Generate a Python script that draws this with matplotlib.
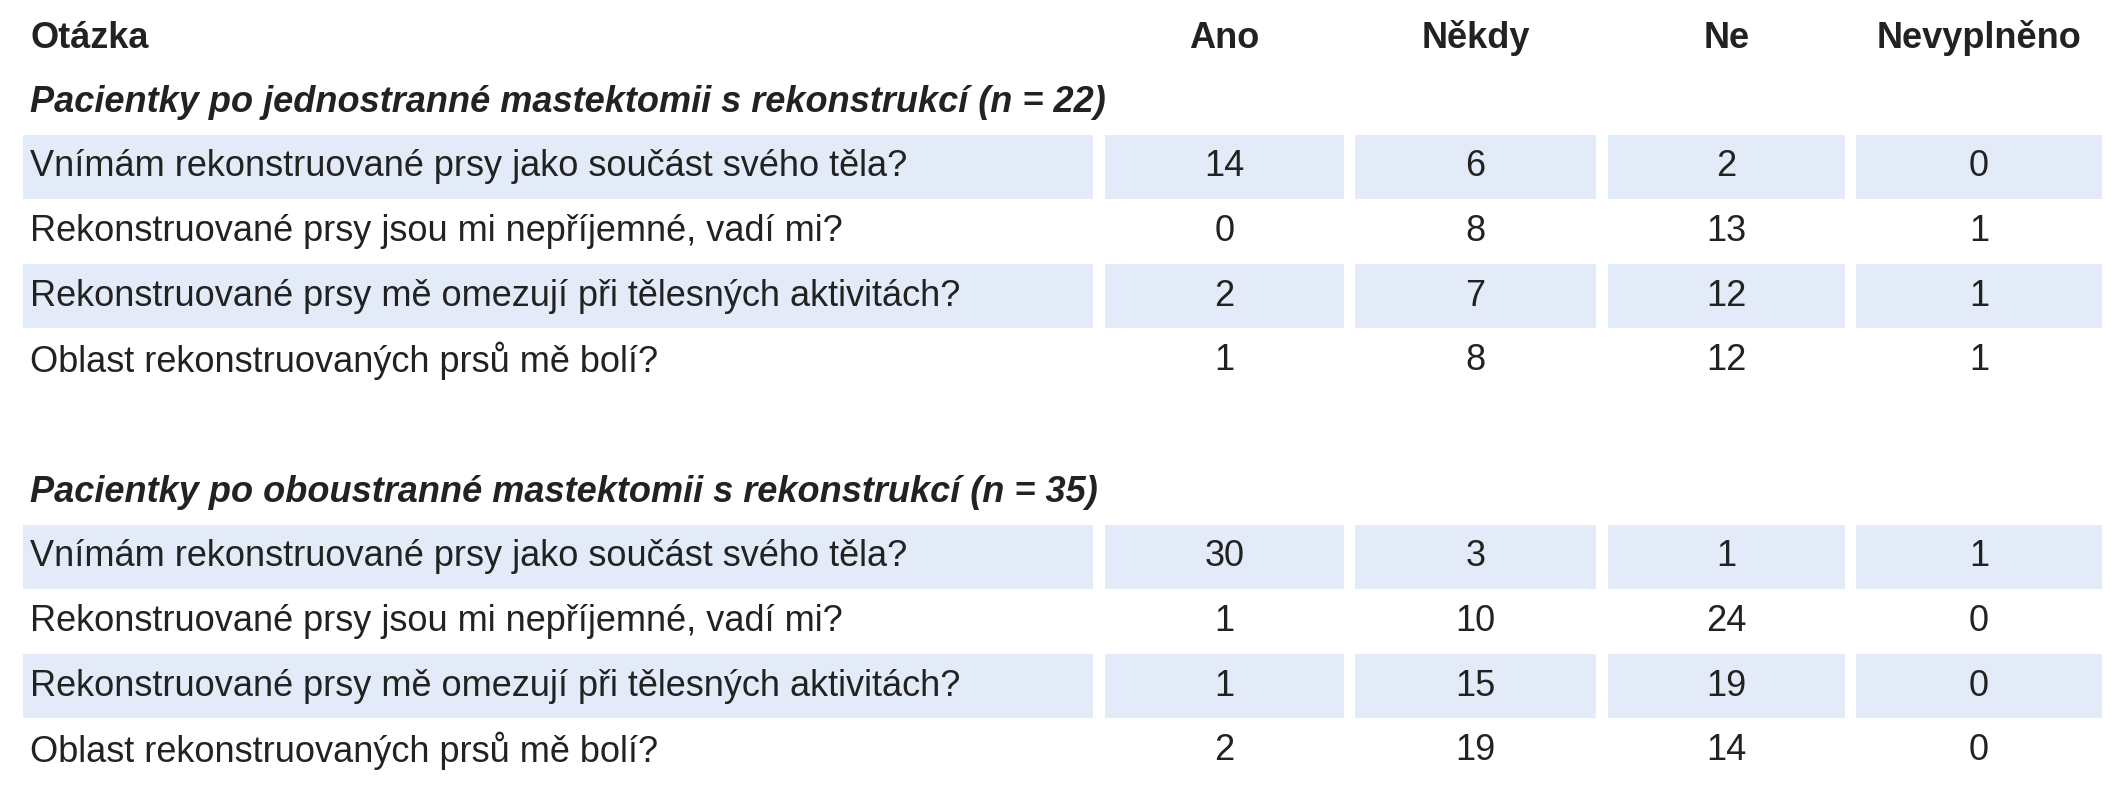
import matplotlib.pyplot as plt
from matplotlib.patches import Rectangle

columns = ["Ano", "Někdy", "Ne", "Nevyplněno"]
questions = [
    "Vnímám rekonstruované prsy jako součást svého těla?",
    "Rekonstruované prsy jsou mi nepříjemné, vadí mi?",
    "Rekonstruované prsy mě omezují při tělesných aktivitách?",
    "Oblast rekonstruovaných prsů mě bolí?",
]
group1_title = "Pacientky po jednostranné mastektomii s rekonstrukcí (n = 22)"
group1_values = [[14, 6, 2, 0], [0, 8, 13, 1], [2, 7, 12, 1], [1, 8, 12, 1]]
group2_title = "Pacientky po oboustranné mastektomii s rekonstrukcí (n = 35)"
group2_values = [[30, 3, 1, 1], [1, 10, 24, 0], [1, 15, 19, 0], [2, 19, 14, 0]]

plt.rcParams["font.family"] = ["Liberation Sans", "DejaVu Sans"]
fig = plt.figure(figsize=(21.2, 8), dpi=100)
ax = fig.add_axes([0, 0, 1, 1])
ax.set_xlim(0, 2120)
ax.set_ylim(800, 0)
ax.axis("off")

shade = "#e2ebf7"
fs = 26
cells = [(23, 1093), (1105, 1344), (1355, 1596), (1608, 1845), (1856, 2102)]
col_x = [(a + b) / 2 for a, b in cells[1:]]

ax.text(30, 38, "Otázka", fontsize=fs, fontweight="bold", va="center", color="#222222")
for x, c in zip(col_x, columns):
    ax.text(x, 38, c, fontsize=fs, fontweight="bold", va="center", ha="center", color="#222222")


def draw_group(title, values, y_title, y_first):
    ax.text(30, y_title, title, fontsize=fs, fontweight="bold", style="italic",
            va="center", color="#222222")
    for i, (q, row) in enumerate(zip(questions, values)):
        yc = y_first + i * 64.5
        if i % 2 == 0:
            for a, b in cells:
                ax.add_patch(Rectangle((a, yc - 32), b - a, 64, color=shade, lw=0))
        ax.text(30, yc, q, fontsize=fs, va="center", color="#222222")
        for x, v in zip(col_x, row):
            ax.text(x, yc, str(v), fontsize=fs, va="center", ha="center", color="#222222")


draw_group(group1_title, group1_values, 102, 167)
draw_group(group2_title, group2_values, 492, 557)

fig.savefig("out.png", dpi=100)
